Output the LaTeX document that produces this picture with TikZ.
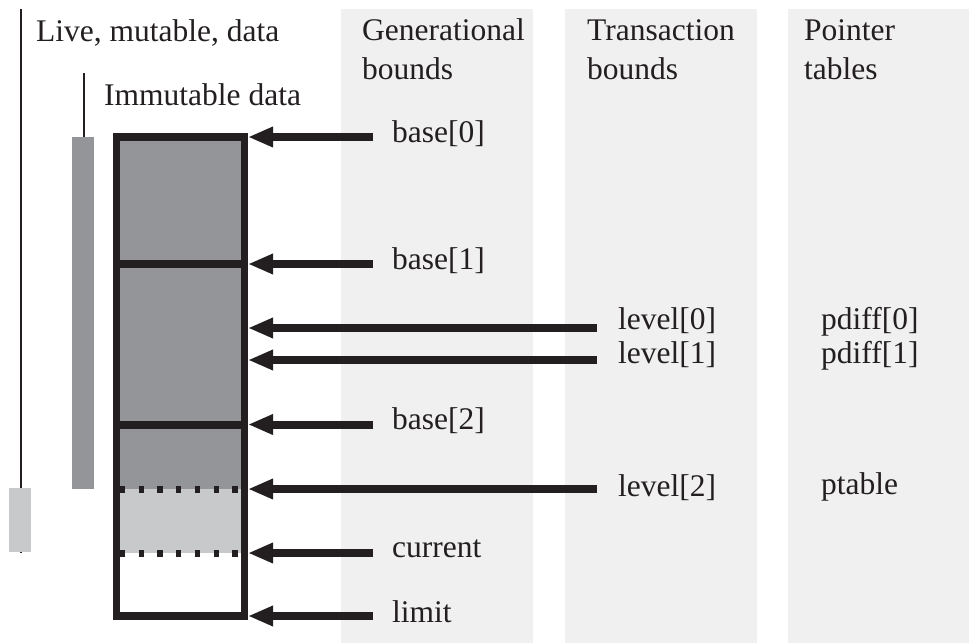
\documentclass[tikz,border=0pt]{standalone}
\usepackage{fontspec}
\setmainfont{Liberation Serif}
\usetikzlibrary{arrows.meta}
\definecolor{ink}{HTML}{231F20}
\definecolor{colbg}{HTML}{F0F0F0}
\definecolor{darkfill}{HTML}{939598}
\definecolor{lightfill}{HTML}{C8C9CB}
\begin{document}
\begin{tikzpicture}[x=1pt,y=-1pt,
  lbl/.style={font=\fontsize{31.5}{38}\selectfont, text=ink, anchor=base west, inner sep=0pt},
  ptr/.style={draw=ink, line width=8pt, -{Triangle[length=25pt,width=19pt]}},
  colband/.style={fill=colbg},
  boundline/.style={draw=ink, line width=8pt},
  dotline/.style={draw=ink, line width=7pt, dash pattern=on 5.3pt off 13.4pt}]
\useasboundingbox (0,0) rectangle (969,643);
% column bands
\fill[colband] (341,9) rectangle (533,643);
\fill[colband] (565,9) rectangle (757,643);
\fill[colband] (788,9) rectangle (969,643);
% live / immutable ranges
\draw[ink, line width=2pt] (21,9) -- (21,553);
\fill[lightfill] (9,488) rectangle (31,552);
\draw[ink, line width=2.5pt] (84,73) -- (84,137);
\fill[darkfill] (72,137) rectangle (94,489);
% heap box
\fill[darkfill] (116,137) rectangle (245,489);
\fill[lightfill] (116,489) rectangle (245,553);
\draw[boundline] (116,264) -- (245,264);
\draw[boundline] (116,424.5) -- (245,424.5);
\draw[dotline] (120,489) -- (241,489);
\draw[dotline] (120,553) -- (241,553);
\draw[ink, line width=7.5pt] (116.5,137) rectangle (244.5,616);
% headings
\node[lbl] (live) at (36,41) {Live, mutable, data};
\node[lbl] (immut) at (104,105) {Immutable data};
\node[lbl] (gen1) at (362,40) {Generational};
\node[lbl] (gen2) at (362,79) {bounds};
\node[lbl] (tr1) at (587,40) {Transaction};
\node[lbl] (tr2) at (587,79) {bounds};
\node[lbl] (pt1) at (804,40) {Pointer};
\node[lbl] (pt2) at (804,79) {tables};
% labels
\node[lbl] (base0) at (392,142) {base[0]};
\node[lbl] (base1) at (392,269) {base[1]};
\node[lbl] (base2) at (392,429) {base[2]};
\node[lbl] (cur) at (392,557) {current};
\node[lbl] (lim) at (392,622) {limit};
\node[lbl] (lev0) at (618,329) {level[0]};
\node[lbl] (lev1) at (618,363) {level[1]};
\node[lbl] (lev2) at (618,496) {level[2]};
\node[lbl] (pd0) at (821,329) {pdiff[0]};
\node[lbl] (pd1) at (821,363) {pdiff[1]};
\node[lbl] (ptab) at (821,494) {ptable};
% arrow tails and heads
\coordinate (tb0) at (373,137);   \coordinate (hb0) at (248,137);
\coordinate (tb1) at (373,264);   \coordinate (hb1) at (248,264);
\coordinate (tl0) at (597,328);   \coordinate (hl0) at (248,328);
\coordinate (tl1) at (597,360);   \coordinate (hl1) at (248,360);
\coordinate (tb2) at (373,424.5); \coordinate (hb2) at (248,424.5);
\coordinate (tl2) at (597,489);   \coordinate (hl2) at (248,489);
\coordinate (tcu) at (373,553);   \coordinate (hcu) at (248,553);
\coordinate (tli) at (373,616);   \coordinate (hli) at (248,616);
\draw[ptr] (tb0) -- (hb0);
\draw[ptr] (tb1) -- (hb1);
\draw[ptr] (tl0) -- (hl0);
\draw[ptr] (tl1) -- (hl1);
\draw[ptr] (tb2) -- (hb2);
\draw[ptr] (tl2) -- (hl2);
\draw[ptr] (tcu) -- (hcu);
\draw[ptr] (tli) -- (hli);
\end{tikzpicture}
\end{document}
